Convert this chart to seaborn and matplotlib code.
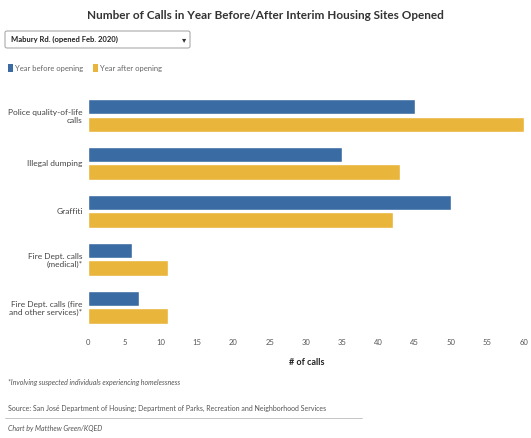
import pandas as pd
import matplotlib.pyplot as plt
import seaborn as sns
from matplotlib.patches import FancyBboxPatch, Rectangle
from matplotlib.lines import Line2D

# Data
categories = ['Police quality-of-life\ncalls', 'Illegal dumping', 'Graffiti',
              'Fire Dept. calls\n(medical)*', 'Fire Dept. calls (fire\nand other services)*']
year_before = [45, 35, 50, 6, 7]
year_after = [60, 43, 42, 11, 11]
series = ['Year before opening', 'Year after opening']
x_ticks = list(range(0, 61, 5))

df = pd.DataFrame({
    'category': categories * 2,
    'calls': year_before + year_after,
    'period': [series[0]] * 5 + [series[1]] * 5,
})

sns.set_style('white')
plt.rcParams['font.family'] = ['Lato', 'DejaVu Sans']

blue = '#3a6ca3'
yellow = '#e9b53b'

fig = plt.figure(figsize=(5.31, 4.38), dpi=100)
ax = fig.add_axes([0.166, 0.244, 0.823, 0.547])

sns.barplot(data=df, y='category', x='calls', hue='period', orient='h',
            palette=[blue, yellow], saturation=1, width=0.74, gap=0.12, ax=ax, legend=False)

ax.set_xlim(0, 60.2)
ax.set_ylim(4.5, -0.5)
ax.set_xticks(x_ticks)
ax.set_xticklabels([str(t) for t in x_ticks], fontsize=5.5, color='#555555')
ax.tick_params(axis='y', labelsize=6, colors='#444444', length=0, pad=4)
ax.tick_params(axis='x', length=0, pad=6)
ax.set_ylabel('')
ax.set_xlabel('# of calls', fontsize=6.5, fontweight='bold', color='#222222', labelpad=8)
for s in ax.spines.values():
    s.set_visible(False)
for lbl in ax.get_yticklabels():
    lbl.set_horizontalalignment('right')
    lbl.set_multialignment('right')

# Title
fig.text(0.5, 0.965, 'Number of Calls in Year Before/After Interim Housing Sites Opened',
         ha='center', va='center', fontsize=8.5, fontweight='bold', color='#333333')

# Dropdown box
box = FancyBboxPatch((5 / 531, 1 - 48 / 438), 185 / 531, 17 / 438,
                     boxstyle='round,pad=0,rounding_size=0.004', transform=fig.transFigure,
                     facecolor='white', edgecolor='#aaaaaa', linewidth=0.8)
fig.patches.append(box)
fig.text(11 / 531, 1 - 39.5 / 438, 'Mabury Rd. (opened Feb. 2020)', ha='left', va='center',
         fontsize=5.5, fontweight='bold', color='#222222')
fig.text(184 / 531, 1 - 39.5 / 438, '▾', ha='center', va='center', fontsize=6, color='#333333',
         family=['DejaVu Sans'])

# Legend
for x0, c, t in [(8, blue, series[0]), (93, yellow, series[1])]:
    fig.patches.append(Rectangle((x0 / 531, 1 - 72 / 438), 5 / 531, 8 / 438,
                                 transform=fig.transFigure, facecolor=c, edgecolor='none'))
    fig.text((x0 + 7) / 531, 1 - 68 / 438, t, ha='left', va='center', fontsize=5.5, color='#666666')

# Footer
fig.text(8 / 531, 1 - 383 / 438, '*Involving suspected individuals experiencing homelessness',
         ha='left', va='center', fontsize=5, style='italic', color='#555555')
fig.text(8 / 531, 1 - 408 / 438,
         'Source: San José Department of Housing; Department of Parks, Recreation and Neighborhood Services',
         ha='left', va='center', fontsize=5, color='#555555')
fig.lines.append(Line2D([5 / 531, 362 / 531], [1 - 418 / 438, 1 - 418 / 438],
                        transform=fig.transFigure, color='#bbbbbb', linewidth=0.6))
fig.text(8 / 531, 1 - 429 / 438, 'Chart by Matthew Green/KQED',
         ha='left', va='center', fontsize=5, style='italic', color='#555555')

fig.savefig('out.png', dpi=100, facecolor='white')
